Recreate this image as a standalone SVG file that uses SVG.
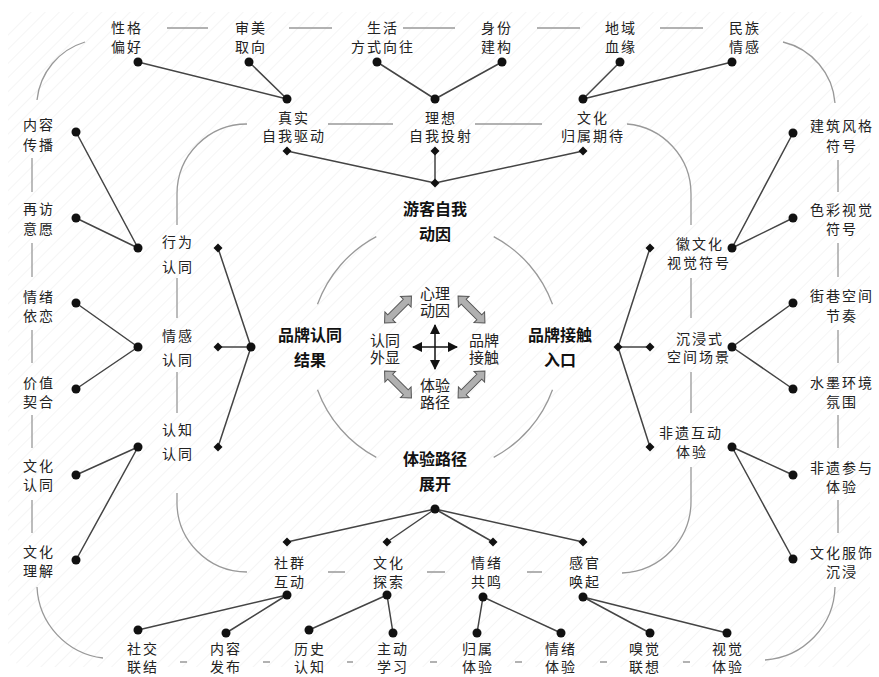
<svg xmlns="http://www.w3.org/2000/svg" width="879" height="677" viewBox="0 0 879 677">
<defs>
<style>
.t{font-family:"Noto Sans CJK SC","Noto Sans CJK JP",sans-serif;font-size:14px;fill:#222;text-anchor:middle;dominant-baseline:central;letter-spacing:2px}
.b{font-family:"Noto Sans CJK SC",sans-serif;font-size:16px;font-weight:bold;fill:#111;text-anchor:middle;dominant-baseline:central}
.c{font-family:"Noto Sans CJK SC",sans-serif;font-size:15px;fill:#222;text-anchor:middle;dominant-baseline:central}
.ln{stroke:#444;stroke-width:1.5;fill:none}
.gl{stroke:#999;stroke-width:1.3;fill:none}
.dot{fill:#111}
.dia{fill:#111}
.blk{fill:#b0b0b0;stroke:#555;stroke-width:1}
</style>
<pattern id="tex" width="10" height="10" patternUnits="userSpaceOnUse" patternTransform="rotate(45)">
<line x1="0" y1="0" x2="0" y2="10" stroke="#ebebeb" stroke-width="1"/>
</pattern>
<marker id="ah" viewBox="0 0 10 10" refX="9" refY="5" markerWidth="7" markerHeight="7" orient="auto-start-reverse">
<path d="M0,0 L10,5 L0,10 Z" fill="#111"/>
</marker>
<path id="dbl" d="M-19,0 L-11,-7.5 L-11,-3.5 L11,-3.5 L11,-7.5 L19,0 L11,7.5 L11,3.5 L-11,3.5 L-11,7.5 Z"/>
<path id="dm" d="M0,-4.5 L4.5,0 L0,4.5 L-4.5,0 Z"/>
</defs>
<rect x="0" y="0" width="879" height="677" fill="#fff"/>
<rect x="8" y="12" width="862" height="655" rx="20" fill="url(#tex)"/>

<g id="decor">
<path class="gl" d="M167,28 H208 M289,28 H332 M403,28 H455 M537,28 H580 M660,28 H703"/>
<path class="gl" d="M328,124 H393 M475,124 H542"/>
<path class="gl" d="M32,158 V192 M32,243 V277 M32,330 V363 M32,415 V448 M32,500 V533"/>
<path class="gl" d="M838,160 V192 M838,243 V277 M838,330 V363 M838,415 V448 M838,500 V533"/>
<path class="gl" d="M177,278 V318 M177,372 V413"/>
<path class="gl" d="M691,278 V318 M691,372 V413"/>
<path class="gl" d="M328,572 H345 M427,572 H445 M527,572 H542"/>
<path class="gl" d="M180,662 H187 M263,662 H270 M347,662 H353 M430,662 H437 M515,662 H522 M600,662 H607 M683,662 H690"/>
<path class="gl" d="M37,100 A68,68 0 0 1 85,42"/>
<path class="gl" d="M783,42 A68,68 0 0 1 835,103"/>
<path class="gl" d="M835,587 A75,75 0 0 1 765,660"/>
<path class="gl" d="M103,658 A75,75 0 0 1 37,587"/>
<path class="gl" d="M247,124 A70,70 0 0 0 177,194 L177,225"/>
<path class="gl" d="M627,124 A70,70 0 0 1 691,194 L691,225"/>
<path class="gl" d="M177,493 L177,500 A70,70 0 0 0 247,572"/>
<path class="gl" d="M691,467 L691,500 A72,72 0 0 1 622,573"/>
<path class="gl" d="M317.5,304.3 A125,125 0 0 1 376.3,236.6 M493.7,236.6 A125,125 0 0 1 552.5,304.3 M552.5,389.7 A125,125 0 0 1 493.7,457.4 M376.3,457.4 A125,125 0 0 1 317.5,389.7"/>
</g>

<g id="connectors">
<path class="ln" d="M138,62 L287,99 M249,62 L287,99 M377,62 L435,99 M502,62 L435,99 M620,62 L583,99 M732,62 L583,99"/>
<path class="ln" d="M287,151 L435,183 M435,151 L435,183 M583,151 L435,183"/>
<path class="ln" d="M76,132 L138,248 M76,218 L138,248 M76,303 L138,347 M76,389 L138,347 M76,475 L138,447 M76,560 L138,447"/>
<path class="ln" d="M218,248 L251,347 M218,347 L251,347 M218,447 L251,347"/>
<path class="ln" d="M618,347 L650,248 M618,347 L650,347 M618,347 L650,447"/>
<path class="ln" d="M793,133 L732,248 M793,218 L732,248 M793,303 L732,347 M793,389 L732,347 M793,475 L732,447 M793,559 L732,447"/>
<path class="ln" d="M435,509 L287,542 M435,509 L387,542 M435,509 L493,542 M435,509 L583,542"/>
<path class="ln" d="M287,595 L138,630 M287,595 L226,633 M387,595 L309,630 M387,595 L393,633 M483,597 L477,633 M483,597 L561,633 M583,597 L650,633 M583,597 L727,633"/>
<line x1="435" y1="325" x2="435" y2="369" stroke="#111" stroke-width="1.5" marker-start="url(#ah)" marker-end="url(#ah)"/>
<line x1="413" y1="347" x2="457" y2="347" stroke="#111" stroke-width="1.5" marker-start="url(#ah)" marker-end="url(#ah)"/>
<use href="#dbl" class="blk" transform="translate(398,309.5) rotate(-45)"/>
<use href="#dbl" class="blk" transform="translate(471.5,309.5) rotate(45)"/>
<use href="#dbl" class="blk" transform="translate(398,384.5) rotate(45)"/>
<use href="#dbl" class="blk" transform="translate(471.5,384.5) rotate(-45)"/>
</g>

<g id="n_xingge"><text class="t" x="127" y="27">性格</text><text class="t" x="127" y="46">偏好</text><circle class="dot" cx="138" cy="62" r="4.5"/></g>
<g id="n_shenmei"><text class="t" x="251" y="27">审美</text><text class="t" x="251" y="46">取向</text><circle class="dot" cx="249" cy="62" r="4.5"/></g>
<g id="n_shenghuo"><text class="t" x="383" y="27">生活</text><text class="t" x="383" y="46">方式向往</text><circle class="dot" cx="377" cy="62" r="4.5"/></g>
<g id="n_shenfen"><text class="t" x="497" y="27">身份</text><text class="t" x="497" y="46">建构</text><circle class="dot" cx="502" cy="62" r="4.5"/></g>
<g id="n_diyu"><text class="t" x="621" y="27">地域</text><text class="t" x="621" y="46">血缘</text><circle class="dot" cx="620" cy="62" r="4.5"/></g>
<g id="n_minzu"><text class="t" x="745" y="27">民族</text><text class="t" x="745" y="46">情感</text><circle class="dot" cx="732" cy="62" r="4.5"/></g>

<g id="n_zhenshi"><circle class="dot" cx="287" cy="99" r="4.5"/><text class="t" x="294" y="117">真实</text><text class="t" x="294" y="135">自我驱动</text><use href="#dm" class="dia" x="287" y="151"/></g>
<g id="n_lixiang"><circle class="dot" cx="435" cy="99" r="4.5"/><text class="t" x="441" y="117">理想</text><text class="t" x="441" y="135">自我投射</text><use href="#dm" class="dia" x="435" y="151"/></g>
<g id="n_wenhua"><circle class="dot" cx="583" cy="99" r="4.5"/><text class="t" x="593" y="117">文化</text><text class="t" x="593" y="135">归属期待</text><use href="#dm" class="dia" x="583" y="151"/></g>
<g id="n_youke"><use href="#dm" class="dia" x="435" y="183"/><text class="b" x="435" y="208">游客自我</text><text class="b" x="435" y="233">动因</text></g>

<g id="n_neirongchuanbo"><text class="t" x="39" y="124">内容</text><text class="t" x="39" y="144">传播</text><circle class="dot" cx="76" cy="132" r="4.5"/></g>
<g id="n_zaifang"><text class="t" x="39" y="208">再访</text><text class="t" x="39" y="228">意愿</text><circle class="dot" cx="76" cy="218" r="4.5"/></g>
<g id="n_qingxuyilian"><text class="t" x="39" y="296">情绪</text><text class="t" x="39" y="315">依恋</text><circle class="dot" cx="76" cy="303" r="4.5"/></g>
<g id="n_jiazhi"><text class="t" x="39" y="382">价值</text><text class="t" x="39" y="401">契合</text><circle class="dot" cx="76" cy="389" r="4.5"/></g>
<g id="n_wenhuarentong"><text class="t" x="39" y="465">文化</text><text class="t" x="39" y="484">认同</text><circle class="dot" cx="76" cy="475" r="4.5"/></g>
<g id="n_wenhualijie"><text class="t" x="39" y="551">文化</text><text class="t" x="39" y="570">理解</text><circle class="dot" cx="76" cy="560" r="4.5"/></g>

<g id="n_xingwei"><circle class="dot" cx="138" cy="248" r="4.5"/><text class="t" x="178" y="241">行为</text><text class="t" x="178" y="266">认同</text><use href="#dm" class="dia" x="218" y="248"/></g>
<g id="n_qinggan"><circle class="dot" cx="138" cy="347" r="4.5"/><text class="t" x="178" y="335">情感</text><text class="t" x="178" y="359">认同</text><use href="#dm" class="dia" x="218" y="347"/></g>
<g id="n_renzhi"><circle class="dot" cx="138" cy="447" r="4.5"/><text class="t" x="178" y="429">认知</text><text class="t" x="178" y="453">认同</text><use href="#dm" class="dia" x="218" y="447"/></g>
<g id="n_pinpairentong"><circle class="dot" cx="251" cy="347" r="4.5"/><text class="b" x="310" y="334">品牌认同</text><text class="b" x="310" y="359">结果</text></g>

<g id="n_huiwenhua"><use href="#dm" class="dia" x="650" y="248"/><text class="t" x="700" y="243">徽文化</text><text class="t" x="699" y="262">视觉符号</text><circle class="dot" cx="732" cy="248" r="4.5"/></g>
<g id="n_chenjin"><use href="#dm" class="dia" x="650" y="347"/><text class="t" x="700" y="338">沉浸式</text><text class="t" x="699" y="356">空间场景</text><circle class="dot" cx="732" cy="347" r="4.5"/></g>
<g id="n_feiyi"><use href="#dm" class="dia" x="650" y="447"/><text class="t" x="691" y="432">非遗互动</text><text class="t" x="692" y="451">体验</text><circle class="dot" cx="732" cy="447" r="4.5"/></g>
<g id="n_pinpaijiechu"><use href="#dm" class="dia" x="618" y="347"/><text class="b" x="560" y="334">品牌接触</text><text class="b" x="560" y="359">入口</text></g>

<g id="n_jianzhu"><circle class="dot" cx="793" cy="133" r="4.5"/><text class="t" x="842" y="125">建筑风格</text><text class="t" x="842" y="145">符号</text></g>
<g id="n_secai"><circle class="dot" cx="793" cy="218" r="4.5"/><text class="t" x="842" y="209">色彩视觉</text><text class="t" x="842" y="228">符号</text></g>
<g id="n_jiexiang"><circle class="dot" cx="793" cy="303" r="4.5"/><text class="t" x="842" y="295">街巷空间</text><text class="t" x="842" y="315">节奏</text></g>
<g id="n_shuimo"><circle class="dot" cx="793" cy="389" r="4.5"/><text class="t" x="842" y="382">水墨环境</text><text class="t" x="842" y="401">氛围</text></g>
<g id="n_feiyicanyu"><circle class="dot" cx="793" cy="475" r="4.5"/><text class="t" x="842" y="467">非遗参与</text><text class="t" x="842" y="486">体验</text></g>
<g id="n_fushi"><circle class="dot" cx="793" cy="559" r="4.5"/><text class="t" x="842" y="552">文化服饰</text><text class="t" x="842" y="571">沉浸</text></g>

<g id="n_tiyanlujing"><text class="b" x="435" y="458">体验路径</text><text class="b" x="435" y="483">展开</text><circle class="dot" cx="435" cy="509" r="4.5"/></g>
<g id="n_shequn"><use href="#dm" class="dia" x="287" y="542"/><text class="t" x="290" y="562">社群</text><text class="t" x="290" y="581">互动</text><circle class="dot" cx="287" cy="595" r="4.5"/></g>
<g id="n_tansuo"><use href="#dm" class="dia" x="387" y="542"/><text class="t" x="389" y="562">文化</text><text class="t" x="389" y="581">探索</text><circle class="dot" cx="387" cy="595" r="4.5"/></g>
<g id="n_gongming"><use href="#dm" class="dia" x="493" y="542"/><text class="t" x="487" y="562">情绪</text><text class="t" x="487" y="581">共鸣</text><circle class="dot" cx="483" cy="597" r="4.5"/></g>
<g id="n_ganguan"><use href="#dm" class="dia" x="583" y="542"/><text class="t" x="585" y="562">感官</text><text class="t" x="585" y="581">唤起</text><circle class="dot" cx="583" cy="597" r="4.5"/></g>

<g id="n_shejiao"><circle class="dot" cx="138" cy="630" r="4.5"/><text class="t" x="143" y="648">社交</text><text class="t" x="143" y="666">联结</text></g>
<g id="n_neirongfabu"><circle class="dot" cx="226" cy="633" r="4.5"/><text class="t" x="226" y="648">内容</text><text class="t" x="226" y="666">发布</text></g>
<g id="n_lishi"><circle class="dot" cx="309" cy="630" r="4.5"/><text class="t" x="310" y="648">历史</text><text class="t" x="310" y="666">认知</text></g>
<g id="n_zhudong"><circle class="dot" cx="393" cy="633" r="4.5"/><text class="t" x="393" y="648">主动</text><text class="t" x="393" y="666">学习</text></g>
<g id="n_guishu"><circle class="dot" cx="477" cy="633" r="4.5"/><text class="t" x="478" y="648">归属</text><text class="t" x="478" y="666">体验</text></g>
<g id="n_qingxutiyan"><circle class="dot" cx="561" cy="633" r="4.5"/><text class="t" x="561" y="648">情绪</text><text class="t" x="561" y="666">体验</text></g>
<g id="n_xiujue"><circle class="dot" cx="650" cy="633" r="4.5"/><text class="t" x="645" y="648">嗅觉</text><text class="t" x="645" y="666">联想</text></g>
<g id="n_shijue"><circle class="dot" cx="727" cy="633" r="4.5"/><text class="t" x="728" y="648">视觉</text><text class="t" x="728" y="666">体验</text></g>

<g id="n_center">
<text class="c" x="435" y="292">心理<tspan x="435" dy="17">动因</tspan></text>
<text class="c" x="385" y="339">认同<tspan x="385" dy="17">外显</tspan></text>
<text class="c" x="484" y="339">品牌<tspan x="484" dy="17">接触</tspan></text>
<text class="c" x="435" y="384">体验<tspan x="435" dy="17">路径</tspan></text>
</g>
</svg>
